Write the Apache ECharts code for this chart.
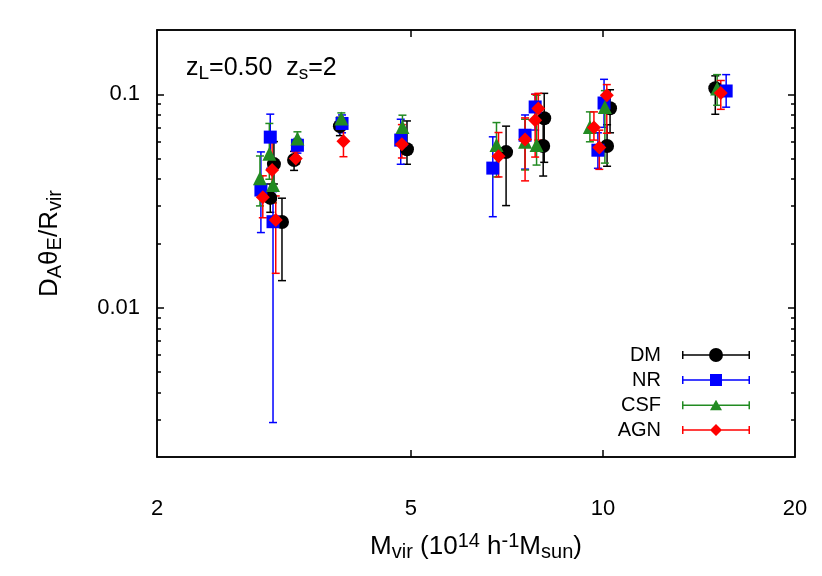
<!DOCTYPE html>
<html>
<head>
<meta charset="utf-8">
<script src="https://cdn.jsdelivr.net/npm/echarts@6.0.0/dist/echarts.min.js"></script>
<style>
  html, body { margin: 0; padding: 0; background: #fff; }
  #chart { width: 822px; height: 576px; }
</style>
</head>
<body>
<div id="chart"></div>
<script>
// tick positions
var xLabelTicks = [2, 5, 10, 20];
var xMajorTicks = [5, 10];
var yLabelTicks = [0.01, 0.1];
var yMinorTicks = [0.003, 0.004, 0.005, 0.006, 0.007, 0.008, 0.009,
                   0.02, 0.03, 0.04, 0.05, 0.06, 0.07, 0.08, 0.09];

// DM
var dmMass = [3.01, 3.05, 3.14, 3.28, 3.87, 4.93, 7.05, 8.09, 8.06, 10.15, 10.26, 15.0];
var dmVal  = [0.0327, 0.0471, 0.0252, 0.0492, 0.0709, 0.0553, 0.0536, 0.0772, 0.0572, 0.0572, 0.086, 0.1067];
var dmLow  = [0.028, 0.038, 0.0134, 0.044, 0.064, 0.047, 0.0301, 0.048, 0.0414, 0.046, 0.066, 0.0806];
var dmHigh = [0.038, 0.060, 0.0326, 0.054, 0.078, 0.075, 0.0709, 0.101, 0.075, 0.072, 0.105, 0.122];

// NR
var nrMass = [2.91, 3.01, 3.04, 3.32, 3.90, 4.82, 6.72, 7.55, 7.83, 9.82, 10.04, 15.6];
var nrVal  = [0.0356, 0.063, 0.0253, 0.0577, 0.073, 0.061, 0.0451, 0.0643, 0.0872, 0.0547, 0.091, 0.1036];
var nrLow  = [0.0225, 0.045, 0.0029, 0.053, 0.066, 0.047, 0.0267, 0.0446, 0.068, 0.045, 0.07, 0.087];
var nrHigh = [0.0537, 0.0807, 0.035, 0.062, 0.080, 0.0764, 0.0632, 0.08, 0.1, 0.066, 0.1175, 0.1236];

// CSF
var csfMass = [2.90, 3.00, 3.04, 3.32, 3.89, 4.85, 6.81, 7.55, 7.87, 9.54, 10.07, 15.1];
var csfVal  = [0.0404, 0.0527, 0.0376, 0.062, 0.077, 0.0703, 0.0578, 0.0599, 0.0578, 0.0703, 0.0872, 0.1063];
var csfLow  = [0.03, 0.04, 0.031, 0.057, 0.068, 0.062, 0.041, 0.0442, 0.0466, 0.0599, 0.0476, 0.0888];
var csfHigh = [0.0514, 0.073, 0.045, 0.0667, 0.0818, 0.0798, 0.0737, 0.0764, 0.099, 0.0827, 0.104, 0.1236];

// AGN
var agnMass = [2.93, 3.03, 3.07, 3.30, 3.92, 4.84, 6.86, 7.55, 7.83, 7.92, 9.68, 9.87, 10.14, 15.3];
var agnVal  = [0.0329, 0.0442, 0.0258, 0.05, 0.0603, 0.0584, 0.0513, 0.0614, 0.0756, 0.0857, 0.0699, 0.0563, 0.099, 0.1014];
var agnLow  = [0.0264, 0.031, 0.0145, 0.047, 0.051, 0.0503, 0.041, 0.0393, 0.0508, 0.061, 0.061, 0.0445, 0.0657, 0.085];
var agnHigh = [0.0415, 0.0595, 0.0334, 0.0537, 0.0716, 0.0721, 0.0662, 0.0775, 0.1, 0.101, 0.0827, 0.0679, 0.111, 0.116];

var font = 'Liberation Sans, Arial, Helvetica, sans-serif';

function rows(mass, val, low, high) {
    return mass.map(function (m, i) { return [m, val[i], low[i], high[i]]; });
}

function errBars(color) {
    return function (params, api) {
        var x = api.value(0);
        var pLo = api.coord([x, api.value(2)]);
        var pHi = api.coord([x, api.value(3)]);
        var w = 4;
        var st = { stroke: color, lineWidth: 1.5 };
        return {
            type: 'group',
            children: [
                { type: 'line', shape: { x1: pLo[0], y1: pLo[1], x2: pHi[0], y2: pHi[1] }, style: st },
                { type: 'line', shape: { x1: pLo[0] - w, y1: pLo[1], x2: pLo[0] + w, y2: pLo[1] }, style: st },
                { type: 'line', shape: { x1: pHi[0] - w, y1: pHi[1], x2: pHi[0] + w, y2: pHi[1] }, style: st }
            ]
        };
    };
}

// legend icons: errorbar line with caps + marker
var bar = 'M0,6.25 L68,6.25 L68,7.75 L0,7.75 Z M0,3 L1.5,3 L1.5,11 L0,11 Z M66.5,3 L68,3 L68,11 L66.5,11 Z ';
var icons = {
    DM: 'path://' + bar + 'M27,7 A7,7 0 1,1 41,7 A7,7 0 1,1 27,7 Z',
    NR: 'path://' + bar + 'M28,1 L40,1 L40,13 L28,13 Z',
    CSF: 'path://' + bar + 'M34,1.5 L40,12 L28,12 Z',
    AGN: 'path://' + bar + 'M34,1 L40,7 L34,13 L28,7 Z'
};

var groups = [
    { name: 'DM', color: '#000000', symbol: 'circle', size: 14, data: rows(dmMass, dmVal, dmLow, dmHigh) },
    { name: 'NR', color: '#0000ff', symbol: 'rect', size: 13, data: rows(nrMass, nrVal, nrLow, nrHigh) },
    { name: 'CSF', color: '#228b22', symbol: 'triangle', size: 14, data: rows(csfMass, csfVal, csfLow, csfHigh) },
    { name: 'AGN', color: '#ff0000', symbol: 'diamond', size: 14, data: rows(agnMass, agnVal, agnLow, agnHigh) }
];

var series = [];
groups.forEach(function (g) {
    series.push({
        name: g.name,
        type: 'custom',
        renderItem: errBars(g.color),
        encode: { x: 0, y: 1 },
        itemStyle: { color: g.color },
        clip: true,
        silent: true,
        data: g.data
    });
    series.push({
        name: g.name,
        type: 'scatter',
        symbol: g.symbol,
        symbolSize: g.size,
        itemStyle: { color: g.color, opacity: 1 },
        encode: { x: 0, y: 1 },
        silent: true,
        data: g.data
    });
});

function richText(big, small, shift) {
    return {
        n: { fontSize: big, fontFamily: font, fontWeight: 'normal', color: '#000' },
        s: { fontSize: small, fontFamily: font, fontWeight: 'normal', color: '#000', padding: [shift, 0, 0, 0] },
        p: { fontSize: small, fontFamily: font, fontWeight: 'normal', color: '#000', padding: [0, 0, shift, 0] }
    };
}

function logAxis(pos, min, max, opts) {
    return Object.assign({
        type: 'log',
        logBase: 10,
        position: pos,
        min: min,
        max: max,
        axisLine: { show: true, onZero: false, lineStyle: { color: '#000', width: 1.5 } },
        splitLine: { show: false },
        axisTick: { show: false },
        axisLabel: { show: false }
    }, opts);
}

var option = {
    animation: false,
    backgroundColor: '#fff',
    title: {
        text: '{n|z}{s|L}{n|=0.50  z}{s|s}{n|=2}',
        left: 181,
        top: 48,
        textStyle: { rich: richText(25, 19, 11) }
    },
    legend: {
        orient: 'vertical',
        align: 'right',
        right: 72,
        top: 345,
        padding: 0,
        itemWidth: 68,
        itemHeight: 14,
        itemGap: 5,
        selectedMode: false,
        textStyle: { fontSize: 20, fontFamily: font, color: '#000', padding: [0, 16, 0, 0] },
        data: groups.map(function (g) {
            return { name: g.name, icon: icons[g.name], itemStyle: { color: g.color } };
        })
    },
    grid: {
        left: 157,
        right: 27,
        top: 30,
        bottom: 119,
        show: true,
        borderColor: '#000',
        borderWidth: 1.5
    },
    xAxis: [
        logAxis('bottom', 2, 20, {
            name: '{n|M}{s|vir}{n| (10}{p|14}{n| h}{p|-1}{n|M}{s|sun}{n|)}',
            nameLocation: 'middle',
            nameGap: 74,
            nameTextStyle: { rich: richText(26, 20, 11) },
            axisTick: { show: true, inside: true, length: 7, customValues: xMajorTicks, lineStyle: { color: '#000', width: 1.5 } },
            axisLabel: { show: true, margin: 41, customValues: xLabelTicks, fontSize: 22, fontFamily: font, color: '#000',
                formatter: function (v) { return String(Math.round(v)); } }
        }),
        logAxis('top', 2, 20, {
            axisTick: { show: true, inside: true, length: 7, customValues: xMajorTicks, lineStyle: { color: '#000', width: 1.5 } }
        })
    ],
    yAxis: [
        logAxis('left', 0.002, 0.2, {
            name: '{n|D}{s|A}{n|θ}{s|E}{n|/R}{s|vir}',
            nameLocation: 'middle',
            nameRotate: 90,
            nameGap: 92,
            nameTextStyle: { rich: richText(26, 20, 11) },
            axisTick: { show: true, inside: true, length: 7, customValues: yLabelTicks, lineStyle: { color: '#000', width: 1.5 } },
            axisLabel: { show: true, margin: 17, customValues: yLabelTicks, fontSize: 22, fontFamily: font, color: '#000',
                formatter: function (v) { return v < 0.05 ? '0.01' : '0.1'; } }
        }),
        logAxis('right', 0.002, 0.2, {
            axisTick: { show: true, inside: true, length: 7, customValues: yLabelTicks, lineStyle: { color: '#000', width: 1.5 } }
        }),
        logAxis('left', 0.002, 0.2, {
            axisLine: { show: false },
            axisTick: { show: true, inside: true, length: 4, customValues: yMinorTicks, lineStyle: { color: '#000', width: 1.5 } }
        }),
        logAxis('right', 0.002, 0.2, {
            axisLine: { show: false },
            axisTick: { show: true, inside: true, length: 4, customValues: yMinorTicks, lineStyle: { color: '#000', width: 1.5 } }
        })
    ],
    series: series
};

var chart = echarts.init(document.getElementById('chart'), null, { renderer: 'canvas' });
chart.setOption(option);
</script>
</body>
</html>
